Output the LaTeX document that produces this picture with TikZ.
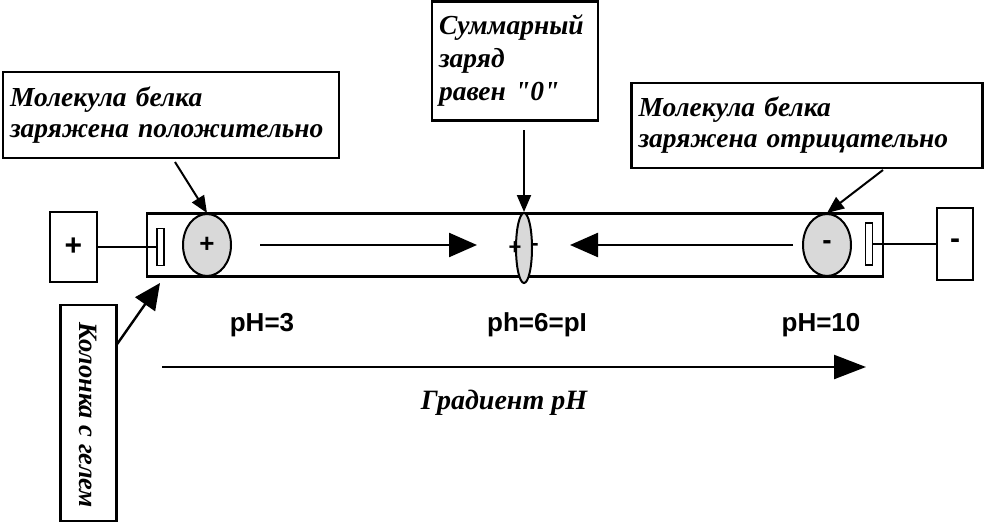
\documentclass[tikz,border=0pt]{standalone}
\usepackage{fontspec}
\setmainfont{Liberation Serif}
\newfontfamily\plainserif{Liberation Serif}[Ligatures=TeXOff]
\newfontfamily\arialf{Liberation Sans}
\usetikzlibrary{arrows.meta,shapes.geometric}
\tikzset{
  lbl/.style={draw,line width=2.4pt,font=\fontsize{27.5}{31}\selectfont\bfseries\itshape,align=left,inner sep=6pt},
  mol/.style={draw,ellipse,line width=2pt,fill=black!15,inner sep=0pt},
  big/.style={line width=2.4pt,-{Triangle[length=28pt,width=24pt]}},
  small/.style={line width=2pt,-{Triangle[length=17pt,width=14pt]}},
  phl/.style={font=\arialf\fontsize{26}{28}\selectfont\bfseries},
  sign/.style={font=\arialf\fontsize{30}{30}\selectfont\bfseries},
}
\begin{document}
\begin{tikzpicture}[x=1pt,y=-1pt]
\useasboundingbox (0,0) rectangle (986,522);
% column
\node[draw,line width=2.4pt,minimum width=736pt,minimum height=63pt,inner sep=0pt] (col) at (515,245) {};
% electrodes
\node[draw,line width=1.8pt,minimum width=7pt,minimum height=37pt,inner sep=0pt] (eL) at (160.5,247) {};
\node[draw,line width=1.8pt,minimum width=7pt,minimum height=42pt,inner sep=0pt] (eR) at (869,244) {};
% power boxes
\node[draw,line width=2.4pt,minimum width=47pt,minimum height=70pt,inner sep=0pt,sign] (pL) at (73.5,247) {+};
\node[draw,line width=2.4pt,minimum width=36pt,minimum height=72pt,inner sep=0pt,sign] (pR) at (955,244) {-};
\draw[line width=1.8pt] (pL.east) -- (eL.west);
\draw[line width=1.8pt] (eR.east) -- (pR.west);
% molecules
\node[mol,minimum width=48pt,minimum height=62pt,font=\arialf\fontsize{26}{26}\selectfont\bfseries] (mL) at (207,245) {+};
\node[mol,minimum width=48pt,minimum height=62pt,font=\arialf\fontsize{28}{28}\selectfont\bfseries] (mR) at (827,245) {-};
\node[mol,minimum width=16pt,minimum height=70pt] (mC) at (524,248) {};
\node[font=\arialf\fontsize{22}{22}\selectfont\bfseries] (cp) at (515,248) {+};
\node[font=\arialf\fontsize{22}{22}\selectfont\bfseries] (cm) at (535,247) {-};
% migration arrows
\coordinate (a1s) at (260,245);
\coordinate (a1e) at (477,245);
\coordinate (a2s) at (793,245);
\coordinate (a2e) at (570,245);
\draw[big] (a1s) -- (a1e);
\draw[big] (a2s) -- (a2e);
% label boxes
\node[lbl,minimum width=336pt,minimum height=86pt,text width=322pt] (b1) at (171,115) {Молекула белка\\заряжена положительно};
\node[lbl,minimum width=166pt,minimum height=119pt,text width=152pt,font=\fontsize{27.5}{33}\selectfont\bfseries\itshape] (b2) at (515,61) {Суммарный\\заряд\\равен {\plainserif "0"}};
\node[lbl,minimum width=351pt,minimum height=85pt,text width=337pt] (b3) at (807,125.5) {Молекула белка\\заряжена отрицательно};
\coordinate (b1a) at (175,162);
\coordinate (b2a) at (524,130);
\coordinate (b3a) at (883,170);
\draw[small] (b1a) -- (mL.north);
\draw[small] (b2a) -- (mC.north);
\draw[small] (b3a) -- (mR.north);
% column label
\node[draw,line width=2.4pt,minimum width=56pt,minimum height=216pt,inner sep=0pt] (cb) at (88.5,413) {};
\node[rotate=-90,font=\fontsize{26.5}{26.5}\selectfont\bfseries\itshape] (ct) at (88,415) {Колонка с гелем};
\coordinate (ca) at (116.5,345);
\coordinate (cae) at (160,283);
\draw[line width=2.4pt,-{Triangle[length=26pt,width=24pt]}] (ca) -- (cae);
% pH labels
\node[phl] (ph3) at (262,325) {pH=3};
\node[phl] (ph6) at (537,325) {ph=6=pI};
\node[phl] (ph10) at (821,325) {pH=10};
\coordinate (gs) at (162,367);
\coordinate (ge) at (866,367);
\draw[line width=2.4pt,-{Triangle[length=32pt,width=24pt]}] (gs) -- (ge);
\node[font=\fontsize{28}{28}\selectfont\bfseries\itshape] (gt) at (504,403) {Градиент pH};
\end{tikzpicture}
\end{document}
